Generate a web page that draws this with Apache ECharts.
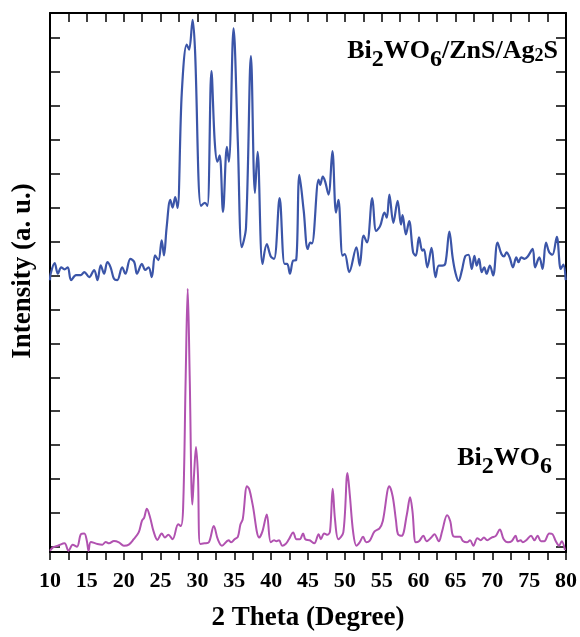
<!DOCTYPE html>
<html>
<head>
<meta charset="utf-8">
<script src="https://cdn.jsdelivr.net/npm/echarts@6/dist/echarts.min.js"></script>
<style>html,body{margin:0;padding:0;background:#fff}#c{width:580px;height:637px}</style>
</head>
<body>
<div id="c"></div>
<script>
// Bi2WO6/ZnS/Ag2S pattern (offset upward)
var compositeTheta = [10.0,10.09,10.63,11.07,11.52,11.97,12.41,12.86,13.53,14.20,14.65,15.32,15.99,16.44,16.88,17.34,17.78,18.22,18.68,19.12,19.79,20.23,20.90,21.44,21.80,22.47,22.91,23.37,23.81,24.25,24.71,25.15,25.46,25.82,26.32,26.63,26.99,27.30,27.88,28.55,28.87,29.35,29.67,30.48,31.01,31.36,31.90,32.35,32.70,33.02,33.47,34.00,34.27,34.90,35.48,36.02,36.59,37.26,37.80,38.16,38.83,39.41,39.95,40.40,41.15,41.82,42.18,42.55,42.99,43.39,43.83,44.42,44.96,45.31,45.54,46.44,46.65,47.01,47.32,47.78,48.31,48.80,49.12,49.69,50.00,50.59,51.57,52.01,52.55,53.01,53.72,54.25,54.79,55.37,55.69,56.04,56.58,57.16,57.61,57.83,58.28,58.72,59.26,59.62,60.06,60.51,60.73,61.19,61.76,62.30,62.74,63.20,63.64,64.18,64.62,64.98,65.42,65.88,66.32,66.77,67.22,67.57,67.89,68.20,68.56,68.91,69.23,69.67,70.12,70.71,71.24,71.59,71.92,72.36,72.80,73.26,73.56,73.93,74.37,74.81,75.48,75.80,76.38,76.82,77.28,77.72,78.16,78.75,79.29,79.64,79.96];
var compositeIntensity = [7.86,8.05,8.36,8.05,8.24,8.18,8.24,7.86,8.01,8.01,8.10,7.95,8.16,7.86,8.30,8.05,8.39,8.24,7.90,7.86,8.24,8.05,8.49,8.39,8.05,8.34,8.16,8.24,7.95,8.59,8.45,9.03,8.59,9.41,10.23,10.00,10.31,9.99,13.39,14.80,14.65,15.53,14.65,10.05,10.14,10.05,14.02,11.93,11.35,11.54,9.87,11.79,11.35,15.28,11.94,8.83,9.41,14.46,10.43,11.64,8.34,8.92,8.56,8.49,10.28,8.34,8.34,8.05,8.44,8.45,10.96,9.90,8.78,8.97,8.94,10.82,10.67,10.91,10.77,10.38,11.66,9.85,10.23,8.58,8.63,8.10,8.83,8.29,9.17,8.97,10.28,9.31,9.46,9.85,9.70,10.38,9.55,10.20,9.50,9.78,9.21,9.60,8.68,8.58,9.12,8.73,8.77,8.24,8.81,7.95,8.29,8.29,8.36,9.29,8.53,8.10,7.84,8.15,8.56,8.61,8.19,8.58,8.29,8.49,8.10,8.24,8.05,8.29,8.00,8.97,8.63,8.56,8.68,8.53,8.24,8.53,8.39,8.53,8.49,8.56,8.78,8.24,8.53,8.19,8.97,8.68,8.61,9.14,8.19,8.32,7.86];

// Bi2WO6 pattern
var bwoTheta = [10.0,10.40,11.07,11.97,12.51,13.08,13.66,14.20,14.65,15.00,15.23,15.54,16.44,17.11,17.55,18.01,18.68,19.35,20.02,20.69,21.36,22.03,22.47,22.78,23.14,23.58,24.04,24.58,25.15,25.60,26.05,26.63,27.39,27.74,28.06,28.41,28.68,28.95,29.31,29.54,29.81,30.07,30.38,30.96,31.55,32.22,32.76,33.33,34.23,34.58,35.04,35.48,35.84,36.15,36.73,37.05,37.49,38.39,38.83,39.41,39.95,40.40,40.71,41.07,41.51,41.96,42.41,42.99,43.43,43.89,44.33,44.64,45.23,45.85,46.44,46.74,47.19,47.64,47.99,48.35,48.66,49.12,49.79,50.36,50.67,51.13,51.57,52.01,52.47,52.91,53.35,54.03,54.70,55.15,56.04,56.49,56.94,57.20,57.70,58.41,58.85,59.17,59.62,60.06,60.65,61.09,61.72,62.16,62.74,63.20,63.87,64.31,64.67,65.21,65.65,66.01,66.55,66.99,67.43,67.97,68.42,68.87,69.31,69.90,70.48,71.02,71.55,72.13,72.62,73.16,73.47,73.83,74.14,74.60,75.26,75.71,76.15,76.61,77.05,77.72,78.16,78.62,79.06,79.42,79.86];
var bwoIntensity = [-0.11,-0.01,0.04,0.11,-0.11,0.07,0.01,0.38,0.40,0.18,-0.11,0.15,0.09,0.07,0.15,0.11,0.18,0.14,0.04,0.07,0.23,0.43,0.77,0.87,1.13,0.87,0.47,0.21,0.40,0.28,0.36,0.23,0.67,0.62,1.16,5.04,7.61,5.04,1.25,2.13,2.95,2.13,0.09,0.11,0.14,0.62,0.23,0.04,0.20,0.14,0.23,0.30,0.67,0.82,1.79,1.69,1.25,0.28,0.47,0.96,0.14,0.20,0.17,0.20,0.04,0.09,0.23,0.43,0.23,0.23,0.40,0.23,0.20,0.11,0.38,0.23,0.40,0.36,0.47,1.72,0.82,0.23,0.43,2.18,1.54,0.43,0.04,0.14,0.30,0.14,0.18,0.46,0.55,0.77,1.79,1.49,0.77,0.38,0.33,0.96,1.47,1.06,0.14,0.17,0.33,0.17,0.28,0.38,0.17,0.47,0.94,0.75,0.33,0.30,0.30,0.18,0.14,0.20,0.04,0.26,0.20,0.28,0.20,0.28,0.33,0.52,0.23,0.14,0.17,0.33,0.17,0.20,0.14,0.20,0.33,0.20,0.33,0.17,0.17,0.40,0.38,0.17,0.04,0.17,-0.09];

var yTickValues = [0,1,2,3,4,5,6,7,8,9,10,11,12,13,14,15];
var xMin = 10, xMax = 80, xStep = 5;

function pairs(xs, ys){ var out=[]; for(var i=0;i<xs.length;i++) out.push([xs[i], ys[i]]); return out; }

var FONT = '"Liberation Serif","Times New Roman",serif';
var chart = echarts.init(document.getElementById('c'), null, {renderer:'canvas'});

var axisLine = {show:true, onZero:false, lineStyle:{color:'#000', width:2}};
var tickStyle = {color:'#000', width:1.5};

chart.setOption({
  animation:false,
  backgroundColor:'#fff',
  grid:{left:50, right:8, top:13, bottom:79, containLabel:false},
  xAxis:[{
    type:'value', position:'bottom', min:xMin, max:xMax, interval:xStep,
    axisLine:axisLine,
    axisTick:{show:true, inside:false, length:8, lineStyle:tickStyle},
    minorTick:{show:true, splitNumber:2, length:8, lineStyle:tickStyle},
    splitLine:{show:false},
    axisLabel:{show:true, margin:18, color:'#000', fontFamily:FONT, fontWeight:'bold', fontSize:22},
    name:'2 Theta (Degree)', nameLocation:'middle', nameGap:53,
    nameTextStyle:{color:'#000', fontFamily:FONT, fontWeight:'bold', fontSize:27}
  },{
    type:'value', position:'top', min:xMin, max:xMax, interval:xStep,
    axisLine:axisLine,
    axisTick:{show:true, inside:true, length:9, lineStyle:tickStyle},
    minorTick:{show:true, splitNumber:2, length:9, lineStyle:tickStyle},
    splitLine:{show:false},
    axisLabel:{show:false}
  }],
  yAxis:[{
    type:'value', position:'left', min:-0.146, max:15.73,
    axisLine:axisLine,
    axisTick:{show:true, inside:true, length:10, lineStyle:tickStyle, customValues:yTickValues},
    splitLine:{show:false},
    axisLabel:{show:false}
  },{
    type:'value', position:'right', min:-0.146, max:15.73,
    axisLine:axisLine,
    axisTick:{show:true, inside:true, length:10, lineStyle:tickStyle, customValues:yTickValues},
    splitLine:{show:false},
    axisLabel:{show:false}
  }],
  series:[{
    name:'Bi2WO6/ZnS/Ag2S', type:'line', xAxisIndex:0, yAxisIndex:0,
    data:pairs(compositeTheta, compositeIntensity),
    showSymbol:false, smooth:0.35, clip:true,
    lineStyle:{color:'#3b55a8', width:2.2}
  },{
    name:'Bi2WO6', type:'line', xAxisIndex:0, yAxisIndex:0,
    data:pairs(bwoTheta, bwoIntensity),
    showSymbol:false, smooth:0.35, clip:true,
    lineStyle:{color:'#b152b0', width:2}
  }],
  graphic:[{
    type:'text', x:23, y:271, rotation:Math.PI/2,
    style:{text:'Intensity (a. u.)', fill:'#000', font:'bold 27px '+FONT, align:'center', verticalAlign:'middle'}
  },{
    type:'text', right:22, top:38,
    style:{
      text:'{m|Bi}{s|2}{m|WO}{s|6}{m|/ZnS/Ag}{t|2}{m|S}',
      fill:'#000',
      rich:{
        m:{fontFamily:FONT, fontWeight:'bold', fontSize:26, fill:'#000'},
        s:{fontFamily:FONT, fontWeight:'bold', fontSize:24, fill:'#000', padding:[17,0,0,0]},
        t:{fontFamily:FONT, fontWeight:'bold', fontSize:18, fill:'#000', padding:[10,0,0,0]}
      }
    }
  },{
    type:'text', right:28, top:445,
    style:{
      text:'{m|Bi}{s|2}{m|WO}{s|6}',
      fill:'#000',
      rich:{
        m:{fontFamily:FONT, fontWeight:'bold', fontSize:26, fill:'#000'},
        s:{fontFamily:FONT, fontWeight:'bold', fontSize:24, fill:'#000', padding:[17,0,0,0]}
      }
    }
  }]
});
</script>
</body>
</html>
